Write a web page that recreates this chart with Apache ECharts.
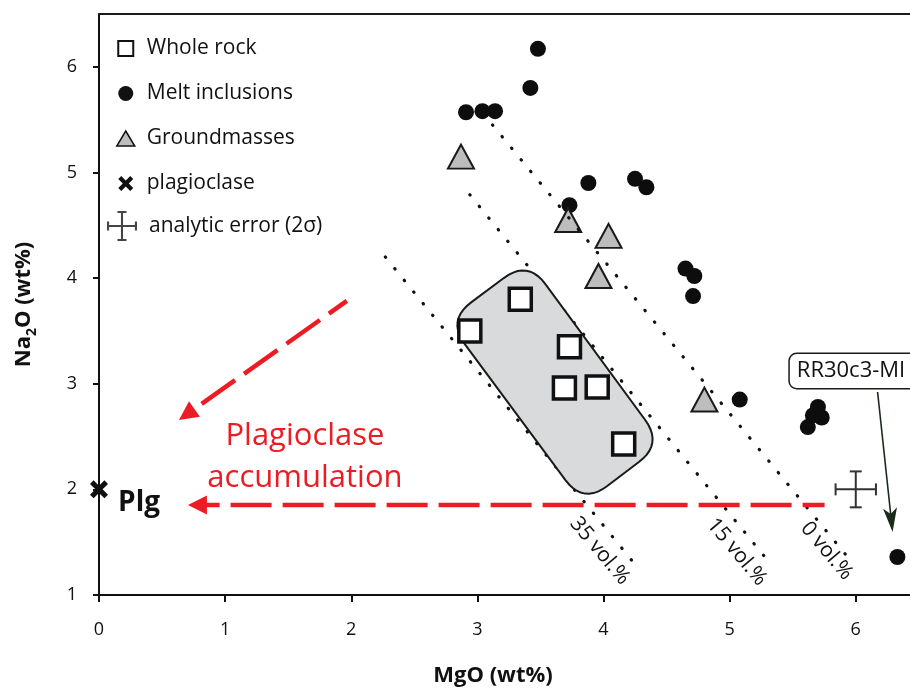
<!DOCTYPE html>
<html lang="en">
<head>
<meta charset="UTF-8">
<title>Na2O vs MgO</title>
<script src="https://cdn.jsdelivr.net/npm/echarts@6/dist/echarts.min.js"></script>
<style>
  html, body { margin: 0; padding: 0; background: #fff; }
  #chart { width: 910px; height: 688px; }
</style>
</head>
<body>
<div id="chart"></div>
<script>
// MgO (wt%), Na2O (wt%)
var wholeRock = [[2.94, 3.50], [3.34, 3.80], [3.73, 3.35], [3.69, 2.96], [3.95, 2.97], [4.16, 2.43]];
var meltInclusions = [
    [3.48, 6.17], [3.42, 5.80], [2.91, 5.57], [3.04, 5.58], [3.14, 5.58],
    [3.88, 4.90], [3.73, 4.69], [4.25, 4.94], [4.34, 4.86],
    [4.65, 4.09], [4.72, 4.02], [4.71, 3.83], [5.08, 2.85],
    [5.70, 2.78], [5.66, 2.70], [5.73, 2.68], [5.62, 2.59], [6.33, 1.36]
];
var groundmasses = [[2.87, 5.15], [3.72, 4.55], [4.04, 4.40], [3.96, 4.02], [4.80, 2.85]];
var plagioclase = [[0, 2.0]];
var analyticError = [[6.0, 2.0, 0.16, 0.17]]; // x, y, +-x, +-y

// plagioclase accumulation iso-lines (end points)
var vol0 = [[3.12, 5.45], [5.97, 1.31]];
var vol15 = [[2.94, 4.79], [5.32, 1.30]];
var vol35 = [[2.27, 4.20], [4.27, 1.26]];

// shaded whole-rock field (corners, before rounding)
var wholeRockField = [[3.40, 4.17], [4.47, 2.43], [3.84, 1.86], [2.76, 3.60]];

// arrows: x0, y0, x1 (tip), y1 (tip)
var plgArrows = [[1.965, 3.784, 0.634, 2.657], [5.753, 1.852, 0.705, 1.852]];
var miArrow = [[6.173, 2.922, 6.292, 1.597]];

var xTicks = [0, 1, 2, 3, 4, 5, 6];
var yTicks = [1, 2, 3, 4, 5, 6];

var FONT = "'Open Sans', 'Noto Sans', sans-serif";
var RED = '#ec1c24';
var X_PATH = 'path://M0,2L2,0L5,3L8,0L10,2L7,5L10,8L8,10L5,7L2,10L0,8L3,5Z';
var ERR_PATH = 'path://M0,9.3H20V10.7H0Z M0,7H1.4V13H0Z M18.6,7H20V13H18.6Z M9.3,0H10.7V20H9.3Z M7,0H13V1.4H7Z M7,18.6H13V20H7Z';

function arrowRenderer(st) {
    return function (params, api) {
        var p0 = api.coord([api.value(0), api.value(1)]);
        var p1 = api.coord([api.value(2), api.value(3)]);
        var dx = p1[0] - p0[0], dy = p1[1] - p0[1];
        var len = Math.sqrt(dx * dx + dy * dy);
        var ux = dx / len, uy = dy / len, nx = -uy, ny = ux;
        var bx = p1[0] - ux * st.headLen, by = p1[1] - uy * st.headLen;
        var hw = st.headWidth / 2, notch = st.notch || 0;
        return {
            type: 'group',
            children: [{
                type: 'line',
                shape: { x1: p0[0], y1: p0[1], x2: bx + ux * (notch + 1), y2: by + uy * (notch + 1) },
                style: { stroke: st.color, lineWidth: st.width, lineDash: st.dash || null, lineDashOffset: st.dashOffset || 0 }
            }, {
                type: 'polygon',
                shape: { points: [[p1[0], p1[1]], [bx + nx * hw, by + ny * hw], [bx + ux * notch, by + uy * notch], [bx - nx * hw, by - ny * hw]] },
                style: { fill: st.color }
            }]
        };
    };
}

function fieldRenderer(params, api) {
    var pts = wholeRockField.map(function (p) { return api.coord(p); });
    var n = pts.length, r = 30, out = [];
    function toward(a, b, d) {
        var vx = b[0] - a[0], vy = b[1] - a[1], l = Math.sqrt(vx * vx + vy * vy);
        return [a[0] + vx / l * d, a[1] + vy / l * d];
    }
    for (var i = 0; i < n; i++) {
        var cur = pts[i], prev = pts[(i + n - 1) % n], next = pts[(i + 1) % n];
        var a = toward(cur, prev, r), b = toward(cur, next, r);
        for (var k = 0; k <= 10; k++) {
            var t = k / 10, s = 1 - t;
            out.push([s * s * a[0] + 2 * s * t * cur[0] + t * t * b[0], s * s * a[1] + 2 * s * t * cur[1] + t * t * b[1]]);
        }
    }
    return {
        type: 'polygon',
        shape: { points: out },
        style: { fill: '#d9dadc', stroke: '#1a1a1a', lineWidth: 2 }
    };
}

function errorRenderer(params, api) {
    var x = api.value(0), y = api.value(1), ex = api.value(2), ey = api.value(3);
    var l = api.coord([x - ex, y]), r = api.coord([x + ex, y]);
    var t = api.coord([x, y + ey]), b = api.coord([x, y - ey]);
    var c = 6, st = { stroke: '#333', lineWidth: 2 };
    function seg(x1, y1, x2, y2) { return { type: 'line', shape: { x1: x1, y1: y1, x2: x2, y2: y2 }, style: st }; }
    return {
        type: 'group',
        children: [
            seg(l[0], l[1], r[0], r[1]), seg(t[0], t[1], b[0], b[1]),
            seg(l[0], l[1] - c, l[0], l[1] + c), seg(r[0], r[1] - c, r[0], r[1] + c),
            seg(t[0] - c, t[1], t[0] + c, t[1]), seg(b[0] - c, b[1], b[0] + c, b[1])
        ]
    };
}

function dotted(data) {
    return {
        type: 'line', data: data, symbol: 'none', silent: true, z: 5,
        lineStyle: { color: '#111', width: 3.2, type: [0.5, 14.5], cap: 'round' }
    };
}

var chart = echarts.init(document.getElementById('chart'));
chart.setOption({
    animation: false,
    backgroundColor: '#fff',
    grid: { left: 99, right: 0, top: 14, bottom: 93, outerBoundsMode: 'none', containLabel: false },
    legend: [{
        orient: 'vertical', left: 116, top: 38, padding: 0, itemGap: 24,
        itemWidth: 22, itemHeight: 15, selectedMode: false,
        textStyle: { fontFamily: FONT, fontSize: 21, color: '#111', padding: [0, 0, 0, 5] },
        data: [
            { name: 'Whole rock', icon: 'path://M0,0H10V10H0Z', itemStyle: { color: '#fff', borderColor: '#111', borderWidth: 2 } },
            { name: 'Melt inclusions', icon: 'circle', itemStyle: { color: '#111', borderWidth: 0 } },
            { name: 'Groundmasses', icon: 'path://M6,0L12,10L0,10Z', itemStyle: { color: '#bdbdbd', borderColor: '#111', borderWidth: 1.5 } },
            { name: 'plagioclase', icon: X_PATH, itemStyle: { color: '#111', borderWidth: 0 } }
        ]
    }, {
        orient: 'vertical', left: 107, top: 211, padding: 0,
        itemWidth: 30, itemHeight: 31, selectedMode: false,
        textStyle: { fontFamily: FONT, fontSize: 21, color: '#111', padding: [0, 0, 0, 7] },
        data: [{ name: 'analytic error (2σ)', icon: ERR_PATH, itemStyle: { color: '#444', borderWidth: 0 } }]
    }],
    xAxis: [{
        type: 'value', min: 0, max: 6.43, interval: 1,
        axisLine: { onZero: false, lineStyle: { color: '#111', width: 2 } },
        axisTick: { length: 7, lineStyle: { color: '#111', width: 2 }, customValues: xTicks },
        axisLabel: { fontFamily: FONT, fontSize: 18, color: '#111', margin: 26, customValues: xTicks },
        splitLine: { show: false },
        name: 'MgO (wt%)', nameLocation: 'middle', nameGap: 70,
        nameTextStyle: { fontFamily: FONT, fontSize: 22, fontWeight: 'bold', color: '#111', padding: [0, 23, 0, 0] }
    }, {
        // top frame line
        type: 'value', position: 'top', min: 0, max: 6.43,
        axisLine: { onZero: false, lineStyle: { color: '#1a1a1a', width: 2 } },
        axisTick: { show: false }, axisLabel: { show: false }, splitLine: { show: false }
    }],
    yAxis: {
        type: 'value', min: 1, max: 6.5, interval: 1,
        axisLine: { onZero: false, lineStyle: { color: '#111', width: 2 } },
        axisTick: { length: 6, lineStyle: { color: '#111', width: 2 }, customValues: yTicks },
        axisLabel: { fontFamily: FONT, fontSize: 18, color: '#111', margin: 22, customValues: yTicks },
        splitLine: { show: false },
        name: 'Na{sub|2}O (wt%)', nameLocation: 'middle', nameGap: 60, nameRotate: 90,
        nameTextStyle: {
            fontFamily: FONT, fontSize: 22, fontWeight: 'bold', color: '#111', lineHeight: 30,
            rich: { sub: { fontFamily: FONT, fontSize: 14, fontWeight: 'bold', color: '#111', verticalAlign: 'bottom', lineHeight: 30 } }
        }
    },
    series: [
        {
            name: 'Melt inclusions', type: 'scatter', data: meltInclusions, z: 3, clip: false,
            symbol: 'circle', symbolSize: 16, itemStyle: { color: '#0d0d0d', opacity: 1 }
        },
        {
            name: 'Groundmasses', type: 'scatter', data: groundmasses, z: 4, clip: false,
            symbol: 'triangle', symbolSize: [26, 24], itemStyle: { color: '#bdbdbd', borderColor: '#1a1a1a', borderWidth: 2, opacity: 1 }
        },
        dotted(vol0), dotted(vol15), dotted(vol35),
        { type: 'custom', data: [[3.6, 3.0]], renderItem: fieldRenderer, silent: true, z: 6 },
        {
            name: 'Whole rock', type: 'scatter', data: wholeRock, z: 7, clip: false,
            symbol: 'rect', symbolSize: 22, itemStyle: { color: '#fff', borderColor: '#111', borderWidth: 3.5, opacity: 1 }
        },
        {
            name: 'plagioclase', type: 'scatter', data: plagioclase, z: 7, clip: false,
            symbol: X_PATH, symbolSize: 18, itemStyle: { color: '#111', opacity: 1 }
        },
        {
            name: 'analytic error (2σ)', type: 'custom', data: analyticError, renderItem: errorRenderer,
            encode: { x: 0, y: 1 }, itemStyle: { color: '#444' }, silent: true, z: 7
        },
        {
            type: 'custom', data: plgArrows, silent: true, z: 8, encode: { x: [0, 2], y: [1, 3] },
            renderItem: arrowRenderer({ color: RED, width: 4.5, dash: [41, 11], dashOffset: 19, headLen: 19, headWidth: 19 })
        },
        {
            type: 'custom', data: miArrow, silent: true, z: 8, encode: { x: [0, 2], y: [1, 3] },
            renderItem: arrowRenderer({ color: '#1c2a1c', width: 1.6, headLen: 24, headWidth: 14, notch: 6 })
        }
    ]
});

// text annotations, anchored in data coordinates
var notes = [
    { text: 'Plagioclase\naccumulation', at: [1.633, 2.307], size: 31, color: RED, align: 'center', lineHeight: 42 },
    { text: 'Plg', at: [0.151, 1.871], size: 28, weight: 'bold', align: 'left' },
    { text: '35 vol.%', at: [3.971, 1.417], size: 21, rotate: -50 },
    { text: '15 vol.%', at: [5.057, 1.407], size: 21, rotate: -50 },
    { text: '0 vol.%', at: [5.770, 1.417], size: 21, rotate: -50 }
];
var graphics = notes.map(function (n) {
    var p = chart.convertToPixel({ xAxisIndex: 0, yAxisIndex: 0 }, n.at);
    return {
        type: 'text', x: p[0], y: p[1], rotation: (n.rotate || 0) * Math.PI / 180, z: 20, silent: true,
        style: {
            text: n.text, fontFamily: FONT, fontSize: n.size, fontWeight: n.weight || 'normal',
            fill: n.color || '#111', align: n.align || 'center', verticalAlign: 'middle',
            lineHeight: n.lineHeight || n.size
        }
    };
});
var tag = chart.convertToPixel({ xAxisIndex: 0, yAxisIndex: 0 }, [5.477, 3.121]);
graphics.push({
    type: 'text', x: tag[0], y: tag[1], z: 20, silent: true,
    style: {
        text: 'RR30c3-MI', fontFamily: FONT, fontSize: 22, fill: '#111', align: 'left', verticalAlign: 'middle',
        backgroundColor: '#fff', borderColor: '#1a1a1a', borderWidth: 1.5, borderRadius: 7,
        padding: [6, 40, 6, 7]
    }
});
chart.setOption({ graphic: graphics });
</script>
</body>
</html>
